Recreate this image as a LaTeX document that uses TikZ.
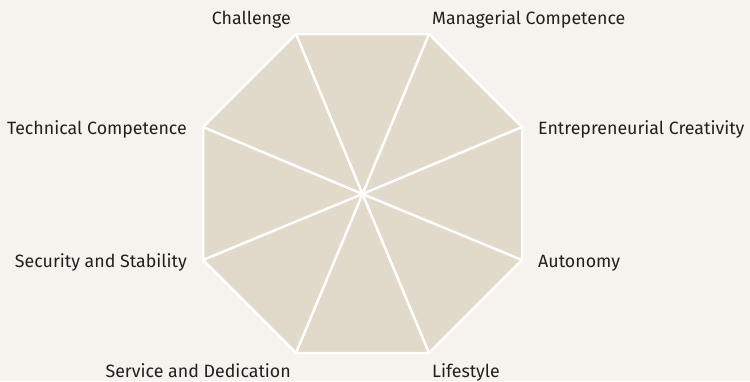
\documentclass[tikz,border=0pt]{standalone}
\usepackage{fontspec}
\setmainfont{Fira Sans}
\definecolor{bg}{HTML}{F6F3EE}
\definecolor{oct}{HTML}{E1D9C9}
\definecolor{txt}{HTML}{231F20}
\begin{document}
\begin{tikzpicture}[x=1pt,y=-1pt,
  lbl/.style={font=\fontsize{17.8}{20}\selectfont, text=txt, inner sep=0pt},
  spoke/.style={draw=white, line width=2.5pt},
  rim/.style={draw=white, line width=2.5pt, fill=oct, line join=miter}]
\fill[bg] (0,0) rectangle (750,381);
\useasboundingbox (0,0) rectangle (750,381);
\coordinate (c) at (362.5,194);
\coordinate (v1) at (296,34);
\coordinate (v2) at (429,34);
\coordinate (v3) at (522,127);
\coordinate (v4) at (522,260);
\coordinate (v5) at (429,353);
\coordinate (v6) at (296,353);
\coordinate (v7) at (203,260);
\coordinate (v8) at (203,127);
\path[rim] (v1) -- (v2) -- (v3) -- (v4) -- (v5) -- (v6) -- (v7) -- (v8) -- cycle;
\foreach \i in {1,...,8} \draw[spoke] (c) -- (v\i);
\node[lbl, anchor=base east] (l1) at (291,24) {Challenge};
\node[lbl, anchor=base west] (l2) at (432,24) {Managerial Competence};
\node[lbl, anchor=base west] (l3) at (538,134) {Entrepreneurial Creativity};
\node[lbl, anchor=base west] (l4) at (538,267) {Autonomy};
\node[lbl, anchor=base west] (l5) at (432,377.5) {Lifestyle};
\node[lbl, anchor=base east] (l6) at (291,377.5) {Service and Dedication};
\node[lbl, anchor=base east] (l7) at (187,267) {Security and Stability};
\node[lbl, anchor=base east] (l8) at (187,134) {Technical Competence};
\end{tikzpicture}
\end{document}
